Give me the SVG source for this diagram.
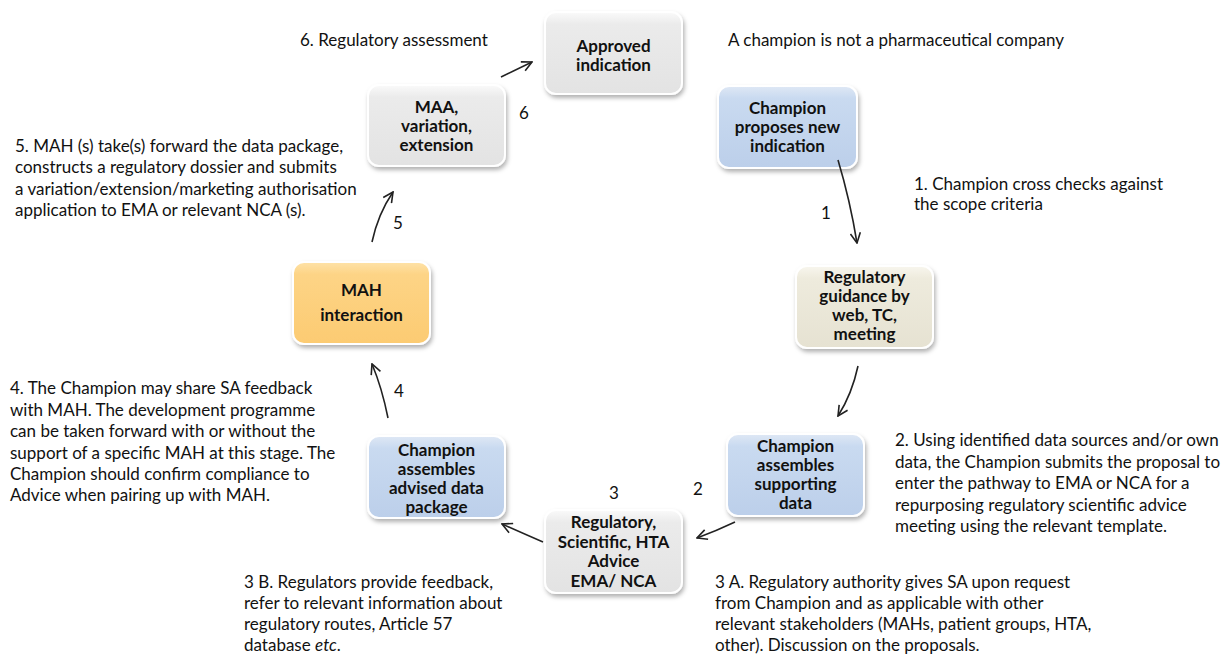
<svg xmlns="http://www.w3.org/2000/svg" width="1231" height="656" viewBox="0 0 1231 656">
<defs>
<style>
.nt{font-family:Lato,"Liberation Sans",sans-serif;font-size:17px;font-weight:bold;fill:#111;text-anchor:middle}
.an{font-family:Lato,"Liberation Sans",sans-serif;font-size:17px;fill:#111}
.box{stroke:#ffffff;stroke-width:2;filter:url(#sh)}
.conn{fill:none;stroke:#222;stroke-width:1.6;marker-end:url(#ah)}
</style>
<filter id="sh" x="-10%" y="-10%" width="125%" height="130%">
<feDropShadow dx="1.5" dy="3" stdDeviation="2" flood-color="#000" flood-opacity="0.3"/>
</filter>
<marker id="ah" viewBox="0 0 12 12" refX="11" refY="6" markerWidth="12" markerHeight="12" markerUnits="userSpaceOnUse" orient="auto">
<path d="M1,1 L11,6 L1,11" fill="none" stroke="#222" stroke-width="1.6"/>
</marker>
<linearGradient id="gGray" x1="0" y1="0" x2="0" y2="1"><stop offset="0" stop-color="#fafafa"/><stop offset="0.15" stop-color="#ebebeb"/><stop offset="1" stop-color="#e3e3e3"/></linearGradient>
<linearGradient id="gBlue" x1="0" y1="0" x2="0" y2="1"><stop offset="0" stop-color="#dfe8f5"/><stop offset="0.15" stop-color="#c9daf0"/><stop offset="1" stop-color="#bccfea"/></linearGradient>
<linearGradient id="gCream" x1="0" y1="0" x2="0" y2="1"><stop offset="0" stop-color="#f8f6ee"/><stop offset="0.15" stop-color="#eeebdd"/><stop offset="1" stop-color="#e6e2d2"/></linearGradient>
<linearGradient id="gOr" x1="0" y1="0" x2="0" y2="1"><stop offset="0" stop-color="#fee2a8"/><stop offset="0.15" stop-color="#fdd486"/><stop offset="1" stop-color="#fccb72"/></linearGradient>
</defs>
<rect width="1231" height="656" fill="#ffffff"/>

<g id="n-approved">
<rect class="box" x="545" y="12" width="137" height="82" rx="11" fill="url(#gGray)"/>
<text class="nt" x="613.5" y="52">Approved</text>
<text class="nt" x="613.5" y="71">indication</text>
</g>
<g id="n-maa">
<rect class="box" x="368" y="85" width="137" height="81" rx="11" fill="url(#gGray)"/>
<text class="nt" x="436.5" y="113">MAA,</text>
<text class="nt" x="436.5" y="132">variation,</text>
<text class="nt" x="436.5" y="151">extension</text>
</g>
<g id="n-champion">
<rect class="box" x="718" y="86" width="139" height="82" rx="11" fill="url(#gBlue)"/>
<text class="nt" x="787.5" y="114">Champion</text>
<text class="nt" x="787.5" y="133">proposes new</text>
<text class="nt" x="787.5" y="152">indication</text>
</g>
<g id="n-guidance">
<rect class="box" x="796" y="266" width="137" height="82" rx="11" fill="url(#gCream)"/>
<text class="nt" x="864.5" y="283">Regulatory</text>
<text class="nt" x="864.5" y="302">guidance by</text>
<text class="nt" x="864.5" y="321">web, TC,</text>
<text class="nt" x="864.5" y="340">meeting</text>
</g>
<g id="n-mah">
<rect class="box" x="293" y="262" width="137" height="82" rx="11" fill="url(#gOr)"/>
<text class="nt" x="361.5" y="296">MAH</text>
<text class="nt" x="361.5" y="321">interaction</text>
</g>
<g id="n-advised">
<rect class="box" x="368" y="436" width="137" height="82" rx="11" fill="url(#gBlue)"/>
<text class="nt" x="436.5" y="456">Champion</text>
<text class="nt" x="436.5" y="475">assembles</text>
<text class="nt" x="436.5" y="494">advised data</text>
<text class="nt" x="436.5" y="513">package</text>
</g>
<g id="n-supporting">
<rect class="box" x="727" y="434" width="137" height="82" rx="11" fill="url(#gBlue)"/>
<text class="nt" x="795.5" y="452">Champion</text>
<text class="nt" x="795.5" y="471">assembles</text>
<text class="nt" x="795.5" y="490">supporting</text>
<text class="nt" x="795.5" y="509">data</text>
</g>
<g id="n-advice">
<rect class="box" x="545" y="510" width="137" height="83" rx="11" fill="url(#gGray)"/>
<text class="nt" x="613.5" y="528">Regulatory,</text>
<text class="nt" x="613.5" y="548">Scientific, HTA</text>
<text class="nt" x="613.5" y="567">Advice</text>
<text class="nt" x="613.5" y="587">EMA/ NCA</text>
</g>

<g id="connectors">
<path class="conn" d="M501,77 L532,62"/>
<path class="conn" d="M372,242 Q378,214 393,192"/>
<path class="conn" d="M388,418 Q382,388 372,364"/>
<path class="conn" d="M838,160 Q850,200 857,243"/>
<path class="conn" d="M858,366 Q852,394 838,416"/>
<path class="conn" d="M735,522 Q716,531 697,538"/>
<path class="conn" d="M543,542 Q522,533 502,524"/>
</g>

<g id="labels">
<text class="an" x="519" y="119">6</text>
<text class="an" x="821" y="219">1</text>
<text class="an" x="393" y="229">5</text>
<text class="an" x="394" y="397">4</text>
<text class="an" x="609" y="499">3</text>
<text class="an" x="693" y="495">2</text>

<text class="an" x="300" y="46">6. Regulatory assessment</text>
<text class="an" x="728" y="46">A champion is not a pharmaceutical company</text>
<text class="an" x="914" y="190">1. Champion cross checks against</text>
<text class="an" x="914" y="210">the scope criteria</text>

<text class="an" x="15" y="152">5. MAH (s) take(s) forward the data package,</text>
<text class="an" x="15" y="173">constructs a regulatory dossier and submits</text>
<text class="an" x="15" y="195">a variation/extension/marketing authorisation</text>
<text class="an" x="15" y="216">application  to EMA or relevant NCA (s).</text>

<text class="an" x="10" y="394">4. The Champion may  share SA feedback</text>
<text class="an" x="10" y="416">with MAH. The development  programme</text>
<text class="an" x="10" y="437">can be  taken forward with or without the</text>
<text class="an" x="10" y="459">support of a specific MAH at this stage. The</text>
<text class="an" x="10" y="480">Champion should confirm compliance to</text>
<text class="an" x="10" y="501">Advice when pairing up with  MAH.</text>

<text class="an" x="895" y="446">2. Using identified data sources and/or own</text>
<text class="an" x="895" y="468">data, the Champion submits the proposal to</text>
<text class="an" x="895" y="489">enter the pathway to EMA or NCA for a</text>
<text class="an" x="895" y="511">repurposing regulatory scientific advice</text>
<text class="an" x="895" y="532">meeting  using the relevant template.</text>

<text class="an" x="244" y="588">3 B. Regulators provide feedback,</text>
<text class="an" x="244" y="609">refer to relevant information about</text>
<text class="an" x="244" y="630">regulatory routes, Article  57</text>
<text class="an" x="244" y="651">database <tspan font-style="italic">etc</tspan>.</text>

<text class="an" x="715" y="588">3 A. Regulatory authority  gives SA upon request</text>
<text class="an" x="715" y="609">from Champion and as applicable with other</text>
<text class="an" x="715" y="630">relevant stakeholders (MAHs, patient groups, HTA,</text>
<text class="an" x="715" y="651">other). Discussion on the proposals.</text>
</g>
</svg>
